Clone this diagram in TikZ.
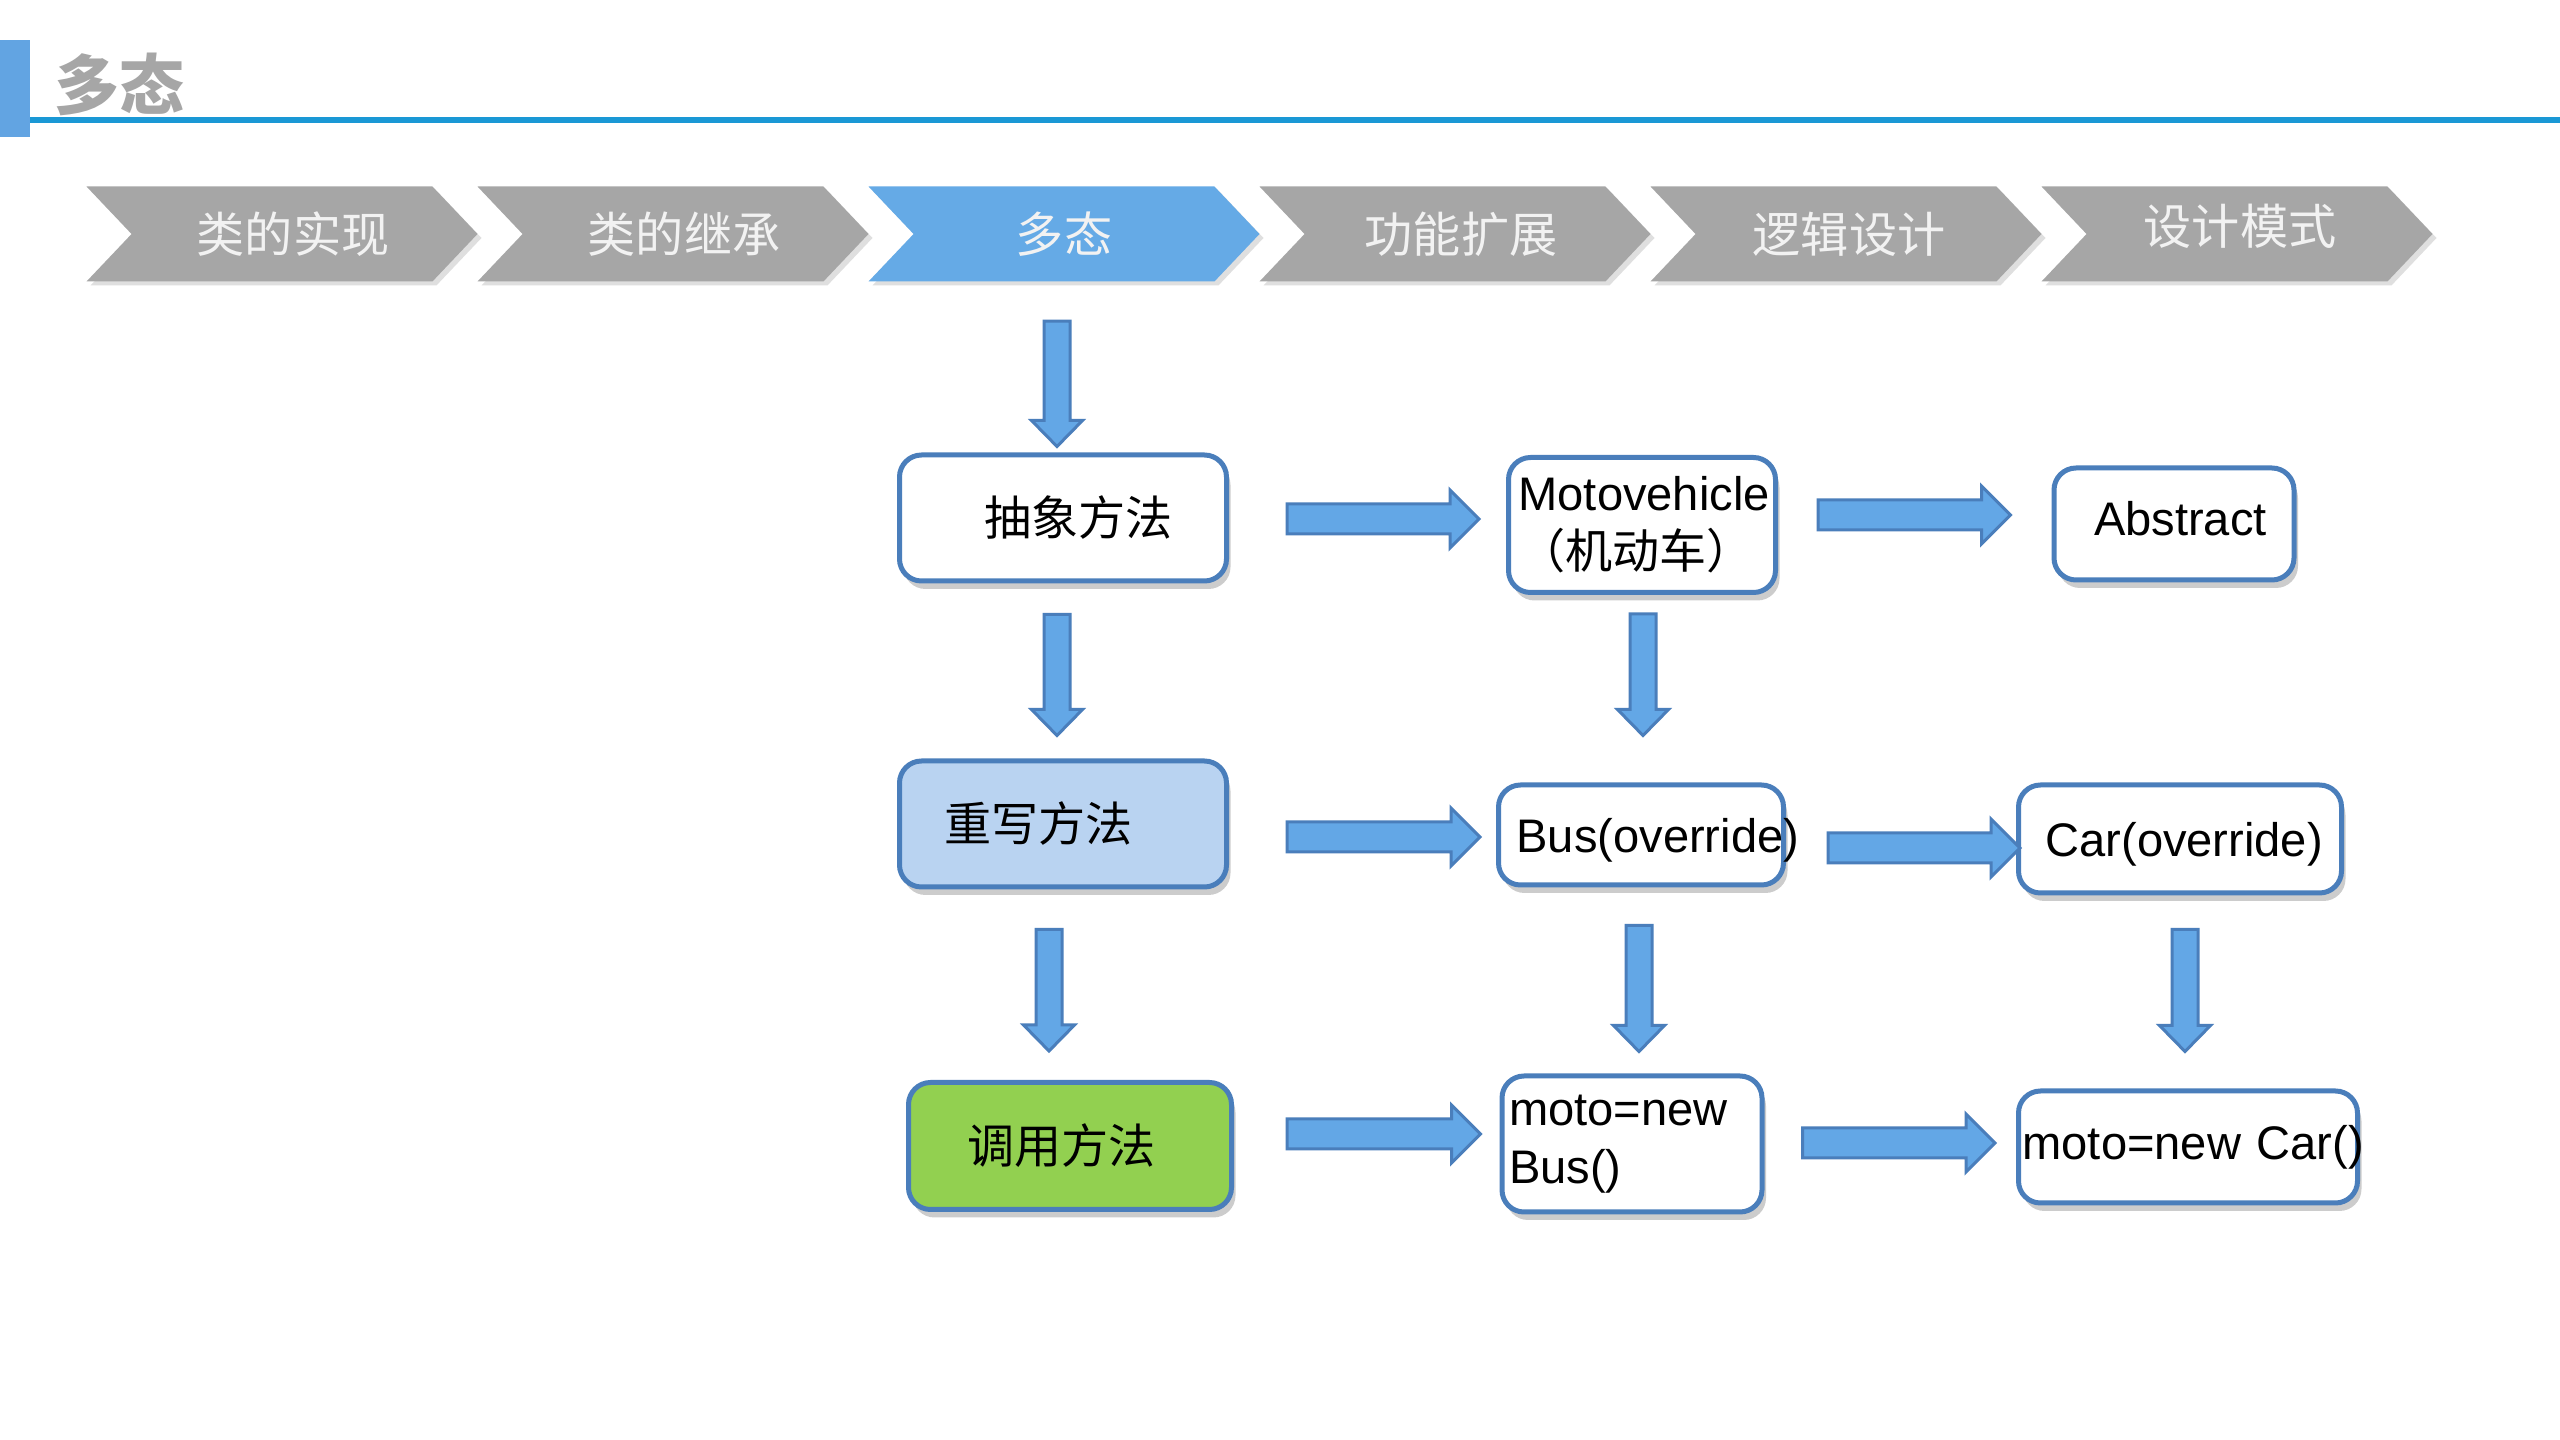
\documentclass[tikz,border=0pt]{standalone}
\usepackage{fontspec}
\setmainfont{Liberation Sans}
\newfontfamily\cjk{Noto Sans CJK SC}
\usetikzlibrary{calc,shapes.symbols,shadows}

\definecolor{boxline}{RGB}{74,126,187}
\definecolor{arrowblue}{RGB}{99,167,230}
\definecolor{stepgray}{RGB}{166,166,166}
\definecolor{stepblue}{RGB}{101,170,230}
\definecolor{steptext}{RGB}{242,242,242}
\definecolor{barblue}{RGB}{98,164,226}
\definecolor{ruleblue}{RGB}{26,152,213}
\definecolor{overfill}{RGB}{185,211,241}
\definecolor{callfill}{RGB}{146,208,80}

\tikzset{
  chevron/.style={signal, signal from=west, signal to=east, signal pointer angle=93,
    fill=stepgray, minimum width=39.1mm, minimum height=9.5mm, inner sep=0pt,
    text=steptext, font=\cjk\fontsize{13.7pt}{16pt}\selectfont,
    drop shadow={shadow xshift=0.4mm, shadow yshift=-0.4mm, opacity=0.25}},
  box/.style={draw=boxline, line width=0.5mm, rounded corners=2.2mm, fill=white,
    align=left, inner ysep=0pt, font=\fontsize{13.4pt}{16.5pt}\selectfont,
    drop shadow={shadow xshift=0.4mm, shadow yshift=-0.8mm, opacity=0.4}},
  blockarrow/.style={draw=boxline, line width=0.3mm, fill=arrowblue},
  harrow/.style={to path={let \p1=(\tikztostart), \p2=(\tikztotarget) in
    (\x1,\y1+1.5mm) -- (\x2-2.9mm,\y1+1.5mm) -- (\x2-2.9mm,\y1+2.9mm) -- (\x2,\y1)
    -- (\x2-2.9mm,\y1-2.9mm) -- (\x2-2.9mm,\y1-1.5mm) -- (\x1,\y1-1.5mm) -- cycle}},
  varrow/.style={to path={let \p1=(\tikztostart), \p2=(\tikztotarget) in
    (\x1-1.3mm,\y1) -- (\x1-1.3mm,\y2+2.6mm) -- (\x1-2.55mm,\y2+2.6mm) -- (\x1,\y2)
    -- (\x1+2.55mm,\y2+2.6mm) -- (\x1+1.3mm,\y2+2.6mm) -- (\x1+1.3mm,\y1) -- cycle}}
}

\begin{document}
\begin{tikzpicture}[x=0.1mm, y=-0.1mm]
  \useasboundingbox (0,0) rectangle (2560,1440);
  \fill[white] (0,0) rectangle (2560,1440);
  \fill[barblue] (0,40) rectangle (30,137);
  \fill[ruleblue] (30,117) rectangle (2560,123);
  \node[text=stepgray, font=\cjk\bfseries\fontsize{18.5pt}{20pt}\selectfont] (title) at (120,84) {多态};

  \node[chevron] (impl) at (282,234) {\hspace*{2.2mm}类的实现};
  \node[chevron] (inherit) at (673,234) {\hspace*{2.2mm}类的继承};
  \node[chevron, fill=stepblue] (poly) at (1064,234) {多态};
  \node[chevron] (extend) at (1455,234) {\hspace*{1.2mm}功能扩展};
  \node[chevron] (logic) at (1846,234) {\hspace*{0.6mm}逻辑设计};
  \node[chevron, text depth=2mm] (pattern) at (2237,234) {\hspace*{0.6mm}设计模式};

  \node[box, minimum height=12.6mm, inner xsep=8.5mm, text width=15.7mm] (abs) at (1063,518) {\cjk 抽象方法};
  \node[box, minimum height=13.5mm, inner xsep=1mm, text width=24.7mm] (moto) at (1642,525) {Motovehicle\\{\cjk （机动车）}};
  \node[box, minimum height=11.2mm, inner xsep=4mm, text width=16mm, text depth=1.2mm] (abstract) at (2174,524) {Abstract};
  \node[box, fill=overfill, minimum height=12.6mm, inner xsep=4.5mm, text width=23.7mm] (over) at (1063,824) {\cjk 重写方法};
  \node[box, minimum height=10mm, inner xsep=1.8mm, text width=24.9mm, text depth=0pt] (bus) at (1641,835) {Bus(override)};
  \node[box, minimum height=10.8mm, inner xsep=2.7mm, text width=26.9mm, text depth=0pt] (car) at (2180,839) {Car(override)};
  \node[box, fill=callfill, minimum height=12.7mm, inner xsep=5.9mm, text width=20.5mm] (call) at (1070,1146) {\cjk 调用方法};
  \node[box, minimum height=13.6mm, inner xsep=0.7mm, text width=24.6mm] (newbus) at (1632,1144) {moto=new\\Bus()};
  \node[box, minimum height=11.2mm, inner xsep=0.4mm, text width=33.1mm] (newcar) at (2188,1147) {\mbox{moto=new Car()}};

  \draw[blockarrow] ($(poly.south)+(-7,39)$) to[varrow] ($(abs.north)+(0,-6)$);
  \draw[blockarrow] ($(abs.south)+(-6,31)$) to[varrow] ($(over.north)+(0,-23)$);
  \draw[blockarrow] ($(moto.south)+(1,19)$) to[varrow] ($(bus.north)+(0,-47)$);
  \draw[blockarrow] ($(over.south)+(-14,40)$) to[varrow] ($(call.north)+(0,-29)$);
  \draw[blockarrow] ($(bus.south)+(-2,38)$) to[varrow] ($(newbus.north)+(0,-22)$);
  \draw[blockarrow] ($(car.south)+(5,34)$) to[varrow] ($(newcar.north)+(0,-37)$);

  \draw[blockarrow] ($(abs.east)+(58,1)$) to[harrow] ($(moto.west)+(-27,0)$);
  \draw[blockarrow] ($(moto.east)+(40,-10)$) to[harrow] ($(abstract.west)+(-41,0)$);
  \draw[blockarrow] ($(over.east)+(58,13)$) to[harrow] ($(bus.west)+(-16,0)$);
  \draw[blockarrow] ($(bus.east)+(42,13)$) to[harrow] ($(car.west)+(4,0)$);
  \draw[blockarrow] ($(call.east)+(53,-12)$) to[harrow] ($(newbus.west)+(-19,0)$);
  \draw[blockarrow] ($(newbus.east)+(38,-1)$) to[harrow] ($(newcar.west)+(-21,0)$);
\end{tikzpicture}
\end{document}
